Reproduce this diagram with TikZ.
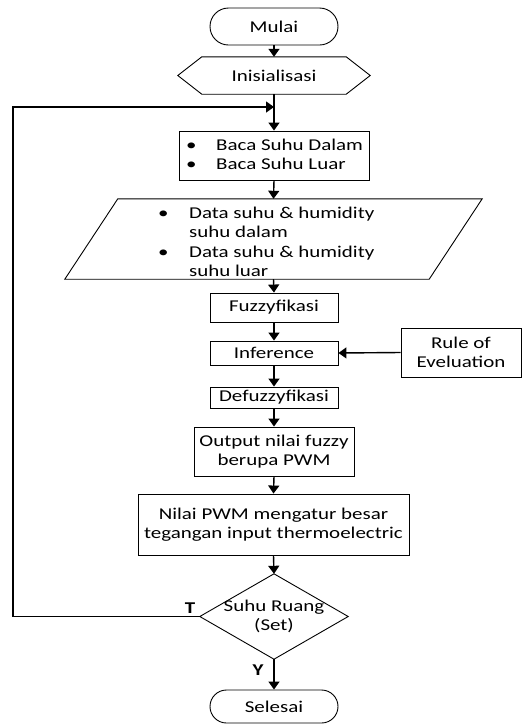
\documentclass[tikz,border=0pt]{standalone}
\usepackage{fontspec}
\setmainfont{Carlito}[FakeStretch=1.27]
\usetikzlibrary{arrows.meta,shapes.misc,shapes.geometric}
\begin{document}
\begin{tikzpicture}[x=1pt,y=-1pt,
  txt/.style={inner sep=0pt, align=center, font=\fontsize{16.5}{19.5}\selectfont},
  box/.style={txt, draw, line width=0.9pt},
  term/.style={box, rounded rectangle},
  outline/.style={line width=0.9pt},
  arr/.style={line width=1.4pt, -{Triangle[length=8pt,width=11pt]}},
  lbl/.style={inner sep=0pt, font=\fontsize{16.5}{19.5}\selectfont\bfseries}]
\useasboundingbox (0,0) rectangle (530,724);

\node[term, minimum width=128pt, minimum height=37pt] (mulai) at (274,26.5) {Mulai};

\node[txt, minimum width=192pt, minimum height=37pt] (init) at (274,75.5) {Inisialisasi};
\draw[outline] (init.west) -- ([xshift=24pt]init.north west) -- ([xshift=-24pt]init.north east)
  -- (init.east) -- ([xshift=-24pt]init.south east) -- ([xshift=24pt]init.south west) -- cycle;

\node[box, minimum width=190pt, minimum height=49pt] (baca) at (274,155.5) {};
\node[txt, anchor=west, align=left] (bacat) at (186,154.5)
  {\makebox[30pt][l]{\textbullet}Baca Suhu Dalam\\\makebox[30pt][l]{\textbullet}Baca Suhu Luar};

\node[txt, minimum width=417pt, minimum height=80pt] (data) at (273.5,239) {};
\draw[outline] ([xshift=53pt]data.north west) -- (data.north east)
  -- ([xshift=-53pt]data.south east) -- (data.south west) -- cycle;
\node[txt, anchor=west, align=left] (datat) at (158,242)
  {\makebox[31pt][l]{\textbullet}Data suhu \& humidity\\\hspace*{31pt}suhu dalam\\
   \makebox[31pt][l]{\textbullet}Data suhu \& humidity\\\hspace*{31pt}suhu luar};

\node[box, minimum width=128pt, minimum height=29pt] (fuzzy) at (274,307.5) {Fuzzyfikasi};
\node[box, minimum width=128pt, minimum height=24pt] (inf) at (274,353) {Inference};
\node[box, minimum width=120pt, minimum height=49pt] (rule) at (461,352.5) {Rule of\\Eveluation};
\node[box, minimum width=128pt, minimum height=21pt] (defuzz) at (274,397.5) {Defuzzyfikasi};
\node[box, minimum width=160pt, minimum height=49pt] (output) at (274,451.5) {Output nilai fuzzy\\berupa PWM};
\node[box, minimum width=271pt, minimum height=61pt] (nilai) at (273.5,524.5) {Nilai PWM mengatur besar\\tegangan input thermoelectric};
\node[txt, minimum width=148pt, minimum height=85pt] (dec) at (274,616.5) {Suhu Ruang\\(Set)};
\draw[outline] (dec.west) -- (dec.north) -- (dec.east) -- (dec.south) -- cycle;
\node[term, minimum width=128pt, minimum height=33pt] (selesai) at (274,706.5) {Selesai};

\coordinate (join) at (274,107);
\coordinate (lc) at (13,107);

\draw[arr] (mulai.south) -- (init.north);
\draw[arr] (init.south) -- (baca.north);
\draw[arr] (dec.west) -| (lc) -- (join);
\draw[arr] (baca.south) -- (data.north);
\draw[arr] (data.south) -- (fuzzy.north);
\draw[arr] (fuzzy.south) -- (inf.north);
\draw[arr] (rule.west) -- (inf.east);
\draw[arr] (inf.south) -- (defuzz.north);
\draw[arr] (defuzz.south) -- (output.north);
\draw[arr] (output.south) -- (nilai.north);
\draw[arr] (nilai.south) -- (dec.north);
\draw[arr] (dec.south) -- (selesai.north);

\node[lbl] (tl) at (190,608) {T};
\node[lbl] (yl) at (258,670) {Y};
\end{tikzpicture}
\end{document}
